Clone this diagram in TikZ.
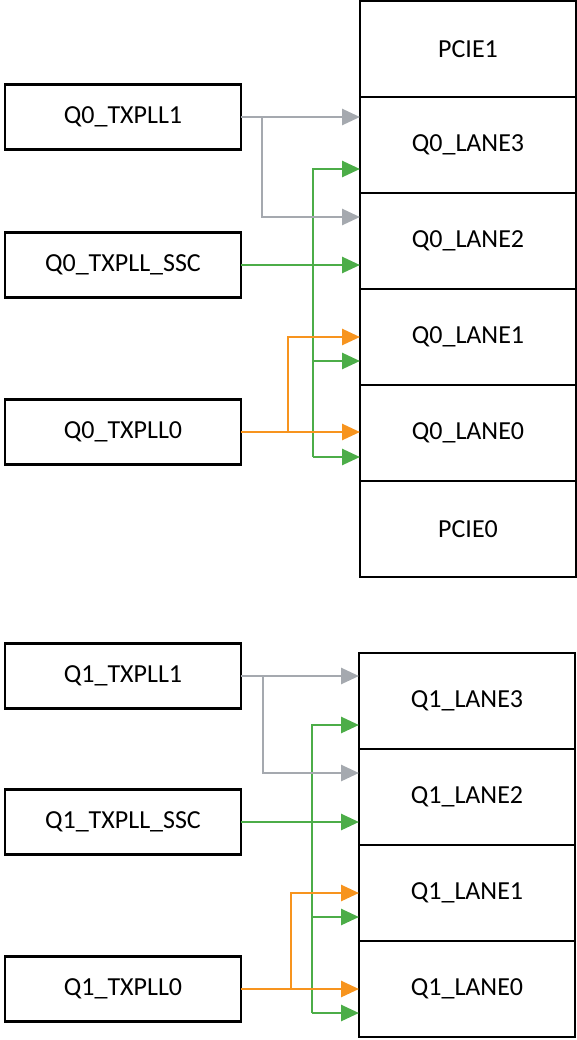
\documentclass[tikz,border=0pt]{standalone}
\usepackage{fontspec}
\setmainfont{Carlito}
\usepackage{xcolor}
\usetikzlibrary{positioning, arrows.meta, calc}
\definecolor{pllgray}{RGB}{165,169,175}
\definecolor{pllgreen}{RGB}{76,173,72}
\definecolor{pllorange}{RGB}{247,148,30}

\begin{document}
\begin{tikzpicture}[
  x=1pt, y=-1pt,
  node distance=0pt,
  lane/.style={draw, line width=2.8pt, minimum width=216pt, minimum height=96pt, outer sep=0pt, font=\fontsize{26}{30}\selectfont},
  pll/.style={draw, line width=2.8pt, minimum width=236pt, minimum height=65pt, outer sep=0pt, font=\fontsize{26}{30}\selectfont},
  arr/.style={-{Triangle[length=18pt, width=16pt]}, line width=2.7pt}
]
\useasboundingbox (0,0) rectangle (577,1040);

% quad 0
\node[lane] (pcie1) at (468,49) {PCIE1};
\node[lane, below=of pcie1] (q0l3) {Q0\_LANE3};
\node[lane, below=of q0l3] (q0l2) {Q0\_LANE2};
\node[lane, below=of q0l2] (q0l1) {Q0\_LANE1};
\node[lane, below=of q0l1] (q0l0) {Q0\_LANE0};
\node[lane, below=of q0l0] (pcie0) {PCIE0};

\node[pll] (q0tx1) at (123,117) {Q0\_TXPLL1};
\node[pll] (q0ssc) at (123,265) {Q0\_TXPLL\_SSC};
\node[pll] (q0tx0) at (123,432) {Q0\_TXPLL0};

\coordinate (q0l3b) at ($(q0l3.north west)!0.75!(q0l3.south west)$);
\coordinate (q0l2a) at ($(q0l2.north west)!0.25!(q0l2.south west)$);
\coordinate (q0l1b) at ($(q0l1.north west)!0.75!(q0l1.south west)$);
\coordinate (q0l0b) at ($(q0l0.north west)!0.75!(q0l0.south west)$);
\coordinate (q0gy) at ($(q0tx1.east)+(21,0)$);
\coordinate (q0or) at ($(q0tx0.east)+(47,0)$);
\coordinate (q0gn) at ($(q0ssc.east)+(72,0)$);

\draw[arr, pllgreen] (q0ssc.east) -- (q0ssc.east -| q0l2.west);
\draw[arr, pllgreen] (q0gn |- q0l0b) |- (q0l3b);
\draw[arr, pllgreen] (q0gn |- q0l1b) -- (q0l1b);
\draw[arr, pllgreen] (q0gn |- q0l0b) -- (q0l0b);
\draw[arr, pllgray] (q0tx1.east) -- (q0tx1.east -| q0l3.west);
\draw[arr, pllgray] (q0gy) |- (q0l2a);
\draw[arr, pllorange] (q0tx0.east) -- (q0tx0.east -| q0l0.west);
\draw[arr, pllorange] (q0or) |- (q0l1.west);

% quad 1
\node[lane] (q1l3) at (467,701) {Q1\_LANE3};
\node[lane, below=of q1l3] (q1l2) {Q1\_LANE2};
\node[lane, below=of q1l2] (q1l1) {Q1\_LANE1};
\node[lane, below=of q1l1] (q1l0) {Q1\_LANE0};

\node[pll] (q1tx1) at (123,676) {Q1\_TXPLL1};
\node[pll] (q1ssc) at (123,822) {Q1\_TXPLL\_SSC};
\node[pll] (q1tx0) at (123,989) {Q1\_TXPLL0};

\coordinate (q1l3b) at ($(q1l3.north west)!0.75!(q1l3.south west)$);
\coordinate (q1l2a) at ($(q1l2.north west)!0.25!(q1l2.south west)$);
\coordinate (q1l1b) at ($(q1l1.north west)!0.75!(q1l1.south west)$);
\coordinate (q1l0b) at ($(q1l0.north west)!0.75!(q1l0.south west)$);
\coordinate (q1gy) at ($(q1tx1.east)+(22,0)$);
\coordinate (q1or) at ($(q1tx0.east)+(50,0)$);
\coordinate (q1gn) at ($(q1ssc.east)+(71,0)$);

\draw[arr, pllgreen] (q1ssc.east) -- (q1ssc.east -| q1l2.west);
\draw[arr, pllgreen] (q1gn |- q1l0b) |- (q1l3b);
\draw[arr, pllgreen] (q1gn |- q1l1b) -- (q1l1b);
\draw[arr, pllgreen] (q1gn |- q1l0b) -- (q1l0b);
\draw[arr, pllgray] (q1tx1.east) -- (q1tx1.east -| q1l3.west);
\draw[arr, pllgray] (q1gy) |- (q1l2a);
\draw[arr, pllorange] (q1tx0.east) -- (q1tx0.east -| q1l0.west);
\draw[arr, pllorange] (q1or) |- (q1l1.west);
\end{tikzpicture}
\end{document}
